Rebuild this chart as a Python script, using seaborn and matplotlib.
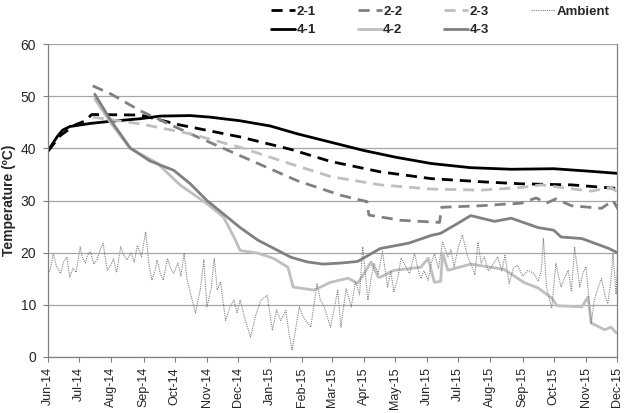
import numpy as np
import pandas as pd
import matplotlib
matplotlib.use("Agg")
import matplotlib.pyplot as plt
import matplotlib.dates as mdates
import seaborn as sns

START = "2014-06-01"

# ---- data (day offset from 1 Jun 2014, temperature in °C) ----
d_21 = [0, 12, 26, 36, 42, 89, 127, 185, 234, 272, 320, 369, 417, 456, 504, 549]
v_21 = [39.5, 42.5, 44.5, 45.3, 46.5, 46.4, 44.5, 42.2, 39.8, 37.5, 35.5, 34.2, 33.6, 33.2, 33.0, 32.3]

d_22 = [43, 60, 89, 137, 185, 240, 282, 307, 309, 340, 377, 379, 417, 456, 470, 480, 489, 504, 533, 544, 549]
v_22 = [52.0, 50.5, 47.2, 42.8, 38.6, 33.8, 31.0, 29.8, 27.2, 26.2, 25.8, 28.7, 29.0, 29.5, 30.5, 29.5, 30.3, 29.0, 28.5, 30.0, 28.3]

d_23 = [43, 89, 137, 185, 234, 272, 320, 369, 417, 456, 475, 494, 523, 542, 549]
v_23 = [46.0, 44.7, 42.8, 40.2, 37.0, 34.6, 33.0, 32.2, 32.0, 32.5, 33.0, 32.5, 31.8, 32.5, 31.5]

d_41 = [0, 4, 9, 14, 21, 41, 60, 89, 108, 137, 156, 185, 214, 240, 272, 304, 335, 369, 407, 446, 487, 523, 549]
v_41 = [39.5, 40.8, 42.3, 43.5, 44.2, 44.8, 45.2, 45.7, 46.2, 46.3, 46.0, 45.3, 44.3, 42.8, 41.2, 39.6, 38.3, 37.1, 36.3, 36.0, 36.1, 35.6, 35.2]

d_42 = [45, 60, 79, 105, 127, 153, 169, 179, 185, 202, 217, 231, 236, 256, 272, 289, 298, 306, 311, 318,
        320, 333, 359, 366, 372, 378, 380, 385, 407, 439, 458, 472, 485, 490, 514, 520, 523, 536, 542, 547]
v_42 = [49.5, 45.0, 40.0, 37.2, 33.0, 29.4, 26.8, 23.0, 20.4, 19.9, 18.9, 17.2, 13.4, 12.8, 14.3, 15.1, 14.1, 16.5, 18.2, 15.3,
        15.3, 16.6, 17.2, 18.9, 14.3, 14.5, 19.9, 16.6, 17.8, 16.8, 14.3, 13.2, 11.3, 9.8, 9.6, 11.5, 6.5, 5.2, 5.7, 4.6]

d_43 = [45, 60, 79, 98, 121, 137, 153, 185, 202, 234, 250, 265, 282, 298, 320, 347, 369, 378, 391, 407,
        430, 446, 472, 487, 494, 514, 540, 549]
v_43 = [50.4, 45.5, 40.1, 37.6, 35.8, 33.2, 30.0, 24.8, 22.4, 19.1, 18.2, 17.8, 18.0, 18.3, 20.8, 21.8, 23.3, 23.7, 25.2, 27.1,
        26.0, 26.6, 24.8, 24.3, 23.0, 22.7, 20.8, 19.9]

d_amb = [0, 2, 5, 8, 12, 15, 18, 21, 24, 27, 31, 33, 36, 38, 41, 44, 47, 50, 53, 57, 60, 63, 66, 70, 73, 76, 80, 83, 86, 90,
         94, 97, 100, 103, 105, 108, 111, 115, 118, 121, 125, 128, 131, 134, 138, 142, 147, 150, 153, 157, 160, 163, 166, 171,
         175, 179, 182, 185, 190, 195, 200, 205, 211, 216, 220, 224, 229, 232, 235, 242, 245, 248, 253, 259, 262, 266, 272,
         279, 282, 287, 292, 296, 300, 303, 308, 311, 314, 318, 322, 327, 330, 333, 337, 340, 343, 348, 353, 356, 359, 362,
         366, 369, 372, 376, 380, 385, 388, 391, 395, 399, 404, 408, 411, 414, 417, 420, 424, 427, 433, 437, 440, 444, 448,
         452, 457, 462, 468, 472, 475, 477, 480, 485, 489, 494, 498, 501, 504, 507, 512, 515, 518, 523, 526, 530, 533, 536,
         539, 542, 544, 547, 549]
v_amb = [16.0, 16.6, 19.8, 17.5, 16.0, 18.2, 19.2, 15.3, 17.0, 16.2, 21.1, 19.0, 18.0, 19.5, 20.2, 17.8, 18.6, 20.5, 21.8, 16.6, 17.5, 18.8, 16.2, 21.1, 19.5, 18.6, 20.0, 18.2, 21.4, 19.2,
         24.0, 18.0, 14.7, 16.5, 18.6, 16.0, 14.7, 18.9, 17.0, 16.0, 18.0, 15.5, 19.9, 14.7, 11.5, 8.4, 13.4, 18.6, 9.6, 13.0, 18.9, 12.8, 14.4, 7.0,
         9.5, 10.9, 8.5, 10.9, 7.0, 3.8, 8.0, 10.9, 11.8, 5.1, 9.0, 7.0, 8.9, 4.5, 1.3, 9.6, 8.0, 7.0, 5.7, 14.1, 11.0, 9.6, 5.7,
         12.8, 5.7, 13.1, 9.6, 14.4, 12.0, 21.1, 10.9, 15.0, 17.9, 16.0, 20.2, 13.4, 16.5, 12.5, 15.3, 19.0, 17.9, 16.0, 19.8, 17.0, 15.0, 16.5,
         14.7, 18.0, 19.8, 17.0, 22.0, 19.2, 20.5, 17.3, 21.0, 23.4, 19.2, 17.5, 15.7, 22.0, 18.0, 19.2, 16.5, 17.3, 19.2, 16.5, 19.5, 14.1, 17.0,
         17.6, 15.5, 16.6, 16.0, 14.5, 16.6, 22.7, 13.4, 9.3, 17.9, 13.4, 15.5, 16.6, 12.5, 21.1, 13.4, 16.0, 17.3, 6.4, 10.9, 13.5, 15.0, 12.0,
         10.2, 14.5, 19.8, 12.0, 20.2]

series = [
    ("2-1", d_21, v_21, "black", (0, (4, 2.5)), 2.0),
    ("4-1", d_41, v_41, "black", "-", 2.0),
    ("2-2", d_22, v_22, "#808080", (0, (4, 2.5)), 2.0),
    ("4-2", d_42, v_42, "#BFBFBF", "-", 2.0),
    ("2-3", d_23, v_23, "#BFBFBF", (0, (4, 2.5)), 2.0),
    ("4-3", d_43, v_43, "#808080", "-", 2.0),
    ("Ambient", d_amb, v_amb, "#808080", (0, (1, 1)), 0.8),
]

sns.set_style("white")
plt.rcParams["font.family"] = ["Liberation Sans", "DejaVu Sans"]

fig = plt.figure(figsize=(6.24, 4.13), dpi=100)
ax = fig.add_axes([0.077, 0.136, 0.912, 0.757])

start = pd.Timestamp(START)
for name, d, v, col, ls, lw in series:
    dates = start + pd.to_timedelta(d, unit="D")
    df = pd.DataFrame({"date": dates, "temp": v})
    sns.lineplot(data=df, x="date", y="temp", ax=ax, color=col, linestyle=ls,
                 linewidth=lw, label=name, estimator=None, sort=False)

ax.set_xlim(pd.Timestamp("2014-06-01"), pd.Timestamp("2015-12-01"))
ax.set_ylim(0, 60)
ax.set_yticks(range(0, 61, 10))
ax.xaxis.set_major_locator(mdates.MonthLocator())
ax.xaxis.set_major_formatter(mdates.DateFormatter("%b-%y"))
ax.grid(axis="y", color="#A6A6A6", linewidth=0.9)
ax.grid(axis="x", visible=False)
ax.set_axisbelow(True)
for s in ["left", "bottom", "right"]:
    ax.spines[s].set_color("#808080")
    ax.spines[s].set_linewidth(0.9)
ax.spines["top"].set_visible(False)
ax.tick_params(axis="x", rotation=90, labelsize=9, length=3.5, color="#808080", direction="out", bottom=True, pad=4)
ax.tick_params(axis="y", labelsize=10, length=3.5, color="#808080", direction="out", left=True, pad=5)
ax.set_xlabel("")
ax.set_ylabel("Temperature (ºC)", fontsize=10, fontweight="bold", labelpad=3)

handles, labels = ax.get_legend_handles_labels()
leg = ax.legend(handles, labels, ncol=4, loc="lower right", bbox_to_anchor=(1.0, 1.0),
                frameon=False, prop={"weight": "bold", "size": 9.5}, handlelength=1.8,
                columnspacing=3.2, handletextpad=0.1, labelspacing=0.45, borderaxespad=0.2)

fig.savefig("out.png", dpi=100)
